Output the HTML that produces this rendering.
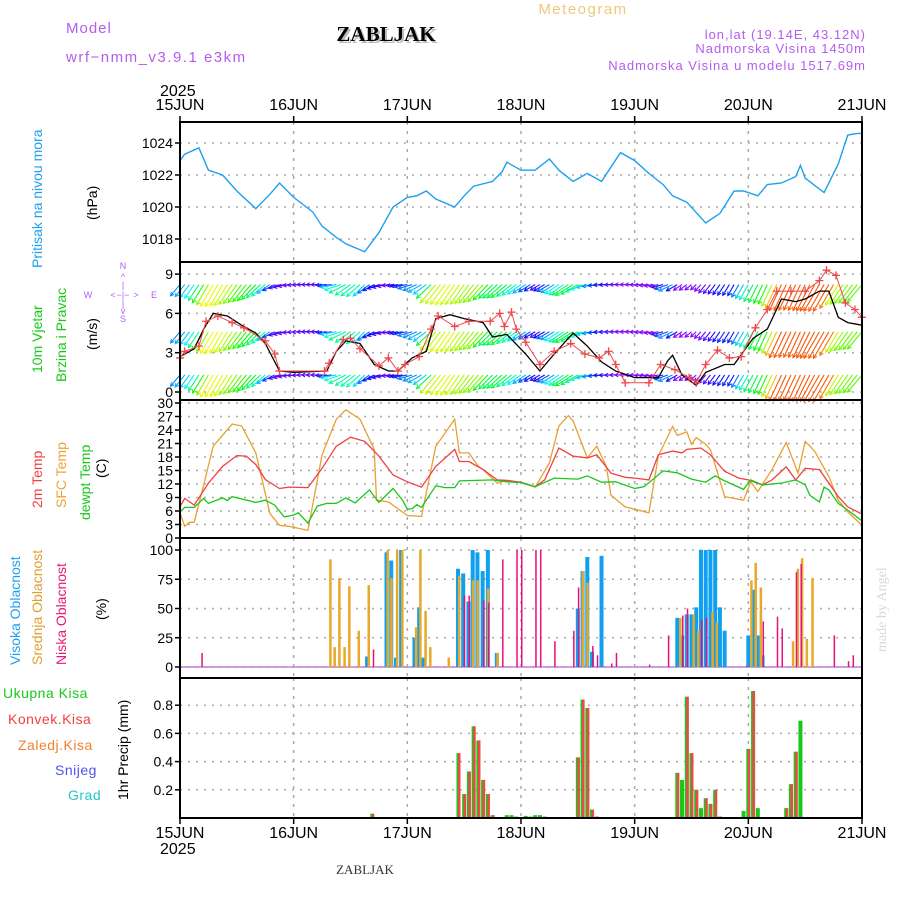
<!DOCTYPE html>
<html><head><meta charset="utf-8">
<style>
body{margin:0;background:#fff;}
svg{display:block;font-family:"Liberation Sans",sans-serif;}
</style></head>
<body>
<svg id="chart" width="900" height="900" viewBox="0 0 900 900" xmlns="http://www.w3.org/2000/svg">
<rect width="900" height="900" fill="#fff"/>
<text x="66" y="33" font-size="15" fill="#b45cf0" letter-spacing="1">Model</text>
<text x="66" y="62" font-size="15" fill="#b45cf0" letter-spacing="1.5">wrf−nmm_v3.9.1 e3km</text>
<text x="388" y="43" font-size="21" font-weight="bold" font-family="Liberation Serif,serif" fill="#bbb" text-anchor="middle">ZABLJAK</text>
<text x="386" y="41" font-size="21" font-weight="bold" font-family="Liberation Serif,serif" fill="#000" text-anchor="middle">ZABLJAK</text>
<text x="583" y="14" font-size="15" fill="#f0c878" text-anchor="middle" letter-spacing="1.5">Meteogram</text>
<text x="866" y="39" font-size="13" fill="#b45cf0" text-anchor="end" letter-spacing="1">lon,lat (19.14E, 43.12N)</text>
<text x="866" y="53" font-size="13" fill="#b45cf0" text-anchor="end" letter-spacing="1">Nadmorska Visina 1450m</text>
<text x="866" y="70" font-size="13" fill="#b45cf0" text-anchor="end" letter-spacing="1">Nadmorska Visina u modelu 1517.69m</text>
<text x="160" y="96" font-size="16">2025</text>
<text x="160" y="854" font-size="16">2025</text>
<text x="365" y="874" font-size="13" font-family="Liberation Serif,serif" fill="#333" text-anchor="middle">ZABLJAK</text>
<text transform="translate(886,652) rotate(-90)" font-size="14" font-family="Liberation Serif,serif" fill="#d4dcd4">made by Angel</text>
<!-- left labels -->
<text transform="translate(42,268) rotate(-90)" font-size="14" fill="#1ea0f0">Pritisak na nivou mora</text>
<text transform="translate(97,220) rotate(-90)" font-size="14">(hPa)</text>
<text transform="translate(42,373) rotate(-90)" font-size="14" fill="#18c818">10m Vjetar</text>
<text transform="translate(66,382) rotate(-90)" font-size="14" fill="#18c818">Brzina i Pravac</text>
<text transform="translate(97,350) rotate(-90)" font-size="14">(m/s)</text>
<g font-size="9" fill="#b45cf0" text-anchor="middle">
<text x="123" y="269">N</text><text x="123" y="280">^</text><text x="123" y="288">|</text>
<text x="88" y="298">W</text><text x="113" y="298">&lt;</text><text x="123" y="298">−|−</text><text x="136" y="298">&gt;</text><text x="154" y="298">E</text>
<text x="123" y="307">|</text><text x="123" y="314">v</text><text x="123" y="322">S</text>
</g>
<text transform="translate(42,508) rotate(-90)" font-size="14" fill="#f04040">2m Temp</text>
<text transform="translate(66,508) rotate(-90)" font-size="14" fill="#f0a030">SFC Temp</text>
<text transform="translate(90,520) rotate(-90)" font-size="14" fill="#18c818">dewpt Temp</text>
<text transform="translate(106,478) rotate(-90)" font-size="14">(C)</text>
<text transform="translate(20,665) rotate(-90)" font-size="14" fill="#1ea0f0">Visoka Oblacnost</text>
<text transform="translate(42,665) rotate(-90)" font-size="14" fill="#e0a030">Srednja Oblacnost</text>
<text transform="translate(66,665) rotate(-90)" font-size="14" fill="#e8187a">Niska Oblacnost</text>
<text transform="translate(106,620) rotate(-90)" font-size="14">(%)</text>
<text x="3" y="698" font-size="14" fill="#18c818" letter-spacing="0.5">Ukupna Kisa</text>
<text x="8" y="724" font-size="14" fill="#f04040" letter-spacing="0.5">Konvek.Kisa</text>
<text x="18" y="750" font-size="14" fill="#f08030" letter-spacing="0.5">Zaledj.Kisa</text>
<text x="55" y="775" font-size="14" fill="#5050f0" letter-spacing="0.5">Snijeg</text>
<text x="68" y="800" font-size="14" fill="#20c8c8" letter-spacing="0.5">Grad</text>
<text transform="translate(128,800) rotate(-90)" font-size="14">1hr Precip (mm)</text>
<g id="plots"></g>
</svg>
<script>
// ---------- data ----------
const dayLabels = ["15JUN","16JUN","17JUN","18JUN","19JUN","20JUN","21JUN"];
const pressureTicks = [1018,1020,1022,1024];
const windTicks = [0,3,6,9];
const tempTicks = [0,3,6,9,12,15,18,21,24,27,30];
const cloudTicks = [0,25,50,75,100];
const precipTicks = [0.2,0.4,0.6,0.8];

const pressureHours = [0,1,4,6,9,12,16,19,21,24,28,30,33,35,39,42,45,48,50,52,54,58,60,62,66,68,69,72,75,78,80,83,86,89,93,96,99,102,104,107,111,114,117,119,122,124,127,130,131,132,136,139,141,143,144];
const pressureValues = [1022.9,1023.3,1023.7,1022.3,1022.0,1021.0,1019.9,1020.8,1021.5,1020.6,1019.7,1018.8,1018.1,1017.7,1017.2,1018.4,1020.0,1020.6,1020.7,1021.0,1020.5,1020.0,1020.7,1021.3,1021.6,1022.2,1022.8,1022.3,1022.3,1023.0,1022.3,1021.6,1022.1,1021.6,1023.4,1022.9,1022.1,1021.4,1020.7,1020.3,1019.0,1019.6,1021.0,1021.0,1020.7,1021.4,1021.5,1021.9,1022.6,1021.8,1020.9,1022.7,1024.5,1024.6,1024.6];

const windHours = [0,3,5,7,10,13,16,18,21,24,31,33,35,38,41,44,46,49,52,54,57,60,64,66,69,73,76,79,83,86,89,92,96,101,103,104,106,109,111,115,117,121,124,127,130,132,135,137,139,141,144];
const windSpeed = [2.7,3.3,4.8,6.0,5.8,5.1,4.5,3.7,1.6,1.5,1.6,3.1,3.9,3.7,2.1,1.6,1.6,2.6,3.1,5.6,5.9,5.6,5.3,4.2,4.4,2.9,1.6,2.9,4.5,3.5,2.3,1.6,1.1,1.1,2.4,2.8,1.3,0.5,1.5,2.1,2.1,4.1,4.8,7.1,6.9,7.1,7.7,7.7,5.7,5.3,5.1];
const gustHours = [0,1,4,5.5,8,11,13.5,18,20,21,30.5,31.5,34.5,36,38,42,44,46,47.5,50.5,53,54.5,58,61,65.5,67.5,68.5,70,71,73,76,79,82.5,85.5,88.5,90.5,92,94,99,101.5,104.5,107.5,109,111,113.5,116,118.5,121.5,124,126,129,132,135,136.5,138.5,140.5,142.5,144];
const gustSpeed = [2.6,3.1,3.5,5.4,5.8,5.3,4.9,3.9,2.9,1.6,1.6,2.2,4.0,4.1,3.3,2.0,2.6,1.6,2.1,2.7,4.8,5.8,5.0,5.4,5.4,6.0,5.0,6.1,4.8,3.8,2.1,3.1,3.7,2.9,2.6,3.1,2.1,0.7,0.7,2.1,1.7,1.1,0.7,2.1,3.2,2.6,2.7,4.9,6.3,7.7,7.7,7.7,8.5,9.3,8.9,6.8,6.3,5.7];
// wind "from" direction (deg) every 3 hours
const windDirHours = [0,3,6,9,12,15,18,21,24,27,30,33,36,39,42,45,48,51,54,57,60,63,66,69,72,75,78,81,84,87,90,93,96,99,102,105,108,111,114,117,120,123,126,129,132,135,138,141,144];
const windDir = [40,35,30,30,35,40,50,70,85,90,90,80,55,45,70,85,80,60,40,35,35,40,45,50,55,60,60,55,60,80,88,90,90,85,75,60,50,40,35,30,30,25,25,25,25,30,30,35,40];

const t2Hours = [0,1,3,6,9,12,14,16,18,21,23,27,30,33,36,39,42,45,48,51,54,58,59,61,64,67,69,72,75,77,80,83,86,88,91,94,96,99,101,104,106,107,110,112,115,118,120,123,125,128,130,132,135,139,141,144];
const t2Values = [7.0,8.8,7.3,12.2,15.9,18.3,18.2,16.3,13.0,11.0,11.3,11.2,15.5,20.4,22.4,21.5,18.2,14.0,12.5,11.3,15.9,19.7,17.0,17.0,15.2,12.9,12.8,12.4,11.4,12.9,20.0,18.2,17.8,18.5,14.4,13.5,13.3,12.9,18.5,19.3,18.9,19.7,20.0,18.5,14.8,13.3,12.9,11.8,12.9,15.8,12.9,15.5,15.2,9.2,6.9,5.3];
const sfcHours = [0,1,2,3,5,7,11,13,16,19,21,23,27,30,33,35,38,41,41.5,44,48,51,54,58,59,61,63,64,67,69,72,75,78,80,82,83,86,88,90,91,94,99,101,104,105,107,108,109,111,112,115,119,120.5,122,125,128,130.5,132,134,137,139,141,144];
const sfcValues = [5.6,2.6,3.5,3.5,11.8,20.4,25.3,24.9,18.9,5.4,2.8,2.6,1.7,18.5,26.4,28.5,26.4,19.7,8.4,8.0,5.0,4.8,20.4,26.4,18.9,18.9,15.9,15.2,12.2,12.8,12.3,11.3,16.7,24.9,27.2,26.0,17.8,20.4,15.9,9.5,6.9,5.6,18.2,24.8,22.8,23.6,20.8,22.3,20.8,19.7,9.2,8.4,12.5,10.3,15.2,21.2,14.4,21.5,19.3,13.7,8.4,5.8,2.8];
const dewHours = [0,1,3,5,6,9,10,11,16,18,20,22,24,25,27,29,31,33,35,37,40,42,45,47,48,49,50,51,54,56,58,59,66,69,72,75,79,84,86,89,92,96,98,102,105,108,111,113,115,119,120.5,123,127,130,132,133,135,136,137,139,141,144];
const dewValues = [5.8,6.8,6.8,8.8,7.7,8.9,8.3,9.2,7.9,8.4,7.3,4.7,5.1,5.6,3.3,7.1,7.7,7.7,8.9,7.8,10.7,7.9,11.0,8.4,6.4,6.5,7.4,6.8,11.6,11.2,11.2,12.7,12.9,12.5,12.3,11.4,13.3,13.1,13.8,12.4,12.5,11.0,11.4,14.9,14.5,13.1,12.4,13.8,12.7,10.8,12.9,11.8,12.2,12.9,11.8,9.5,8.0,11.3,10.7,7.7,6.2,3.8];

const highHours = [39.5,43.6,44.6,45.6,46.7,49.5,50.5,51.4,58.7,59.8,60.9,61.8,62.8,63.9,65,66.9,84,85,86,87,89,105,106,107,108,109,110,111,112,113,114,115,120,121,122,123];
const highValues = [9,98,91,8,100,25,51,8,84,80,56,100,98,82,100,12,50,82,94,13,95,42,27,45,45,51,100,100,100,100,51,31,27,66,27,10];
const midHours = [31.7,32.6,33.6,34.7,35.7,37.7,39.8,43.8,44.6,45.8,46.9,49.8,50.7,51.8,52.8,56.7,58.9,61.8,62.8,65,67,85,86,105.6,108.4,109.4,112.4,113.3,120.6,121.5,122.6,129.4,130.4,131.3,132.3,133.5];
const midValues = [92,17,76,17,69,31,70,100,76,100,100,34,100,48,17,8,78,74,74,67,12,82,72,42,45,31,47,38,74,89,68,22,84,93,24,76];
const lowHours = [4.5,40.7,59.9,60.9,64,65,68,71,72,75,76,79,83,84,87,88,91,92,99,103,106,107,110,111,119.5,123,126,127,130,131,138,141,142];
const lowValues = [12,15,61,61,57,55,92,100,100,100,100,22,31,68,18,10,3,12,2,27,44,50,40,42,1,39,43,33,81,88,27,5,10];

const precipHours = [40.6,58.8,60,61,62,63,64,65,66,69,70,71,73,74,75,76,77,84,85,86,87,88,105,106,107,108,109,110,111,112,113,114,119,120,121,122,128,129,130,131];
const precipTotal = [0.03,0.46,0.17,0.33,0.65,0.55,0.27,0.17,0.02,0.02,0.02,0.01,0.015,0.01,0.02,0.02,0.01,0.43,0.84,0.78,0.06,0.01,0.32,0.27,0.86,0.46,0.2,0.07,0.14,0.1,0.2,0.01,0.05,0.49,0.9,0.07,0.07,0.24,0.47,0.69];
const precipConv = [0.03,0.46,0.17,0.33,0.65,0.55,0.27,0.17,0.02,0,0,0,0,0,0,0,0,0.43,0.84,0.78,0.06,0.01,0.32,0,0.86,0.46,0.2,0,0.14,0.1,0.2,0.01,0,0.49,0.9,0,0.07,0.24,0.47,0];

// ---------- helpers ----------
const NS = "http://www.w3.org/2000/svg";
const plots = document.getElementById('plots');
const X0 = 180, X1 = 862, HOURS = 144;
const xs = h => X0 + (X1 - X0) * h / HOURS;
const panels = [
  {name:'pressure', top:122, bot:262, y:v => 239 - (v-1018)*16, ticks:pressureTicks, fmt:v=>v},
  {name:'wind', top:262, bot:400, y:v => 392 - v*13.1, ticks:windTicks, fmt:v=>v},
  {name:'temp', top:400, bot:538, y:v => 538 - v*4.5, ticks:tempTicks, fmt:v=>v},
  {name:'cloud', top:538, bot:678, y:v => 667 - v*1.17, ticks:cloudTicks, fmt:v=>v},
  {name:'precip', top:678, bot:818, y:v => 818 - v*141, ticks:precipTicks, fmt:v=>v.toFixed(1)}
];
function mk(tag, attrs, parent){
  const e = document.createElementNS(NS, tag);
  for (const k in attrs) e.setAttribute(k, attrs[k]);
  (parent||plots).appendChild(e);
  return e;
}
function line(xsArr, ysArr, color, name, w){
  const d = xsArr.map((h,i)=>(i?'L':'M')+xs(h).toFixed(1)+','+ysArr[i].toFixed(1)).join('');
  const p = mk('path',{d:d,fill:'none',stroke:color,'stroke-width':w||1.3});
  
  
  return p;
}
function interp(hArr, vArr, h){
  for (let i=1;i<hArr.length;i++) if (h<=hArr[i]){const t=(h-hArr[i-1])/(hArr[i]-hArr[i-1]);return vArr[i-1]+t*(vArr[i]-vArr[i-1]);}
  return vArr[vArr.length-1];
}

// grids
panels.forEach(p=>{
  const g = mk('g',{});
  
  
  p.ticks.forEach(t=>{
    const y = p.y(t);
    mk('line',{x1:X0,x2:X1,y1:y,y2:y,stroke:'#aaa','stroke-dasharray':'2,6','stroke-width':1.5},g);
    mk('line',{x1:X0-5,x2:X0,y1:y,y2:y,stroke:'#000','stroke-width':1.5},g);
    const tx = mk('text',{x:X0-7,y:y+5,'font-size':14,'text-anchor':'end'},g);
    tx.textContent = p.fmt(t);
    
    
  });
  for (let d=1; d<6; d++){
    const x = xs(d*24);
    mk('line',{x1:x,x2:x,y1:p.top,y2:p.bot,stroke:'#aaa','stroke-dasharray':'3,6','stroke-width':1.5},g);
  }
});
// date labels
dayLabels.forEach((lab,i)=>{
  [110, 838].forEach(y=>{
    const t = mk('text',{x:xs(i*24),y:y,'font-size':16,'text-anchor':'middle'});
    t.textContent = lab;
    
    
  });
  mk('line',{x1:xs(i*24),x2:xs(i*24),y1:116,y2:122,stroke:'#000','stroke-width':1.5});
  mk('line',{x1:xs(i*24),x2:xs(i*24),y1:818,y2:824,stroke:'#000','stroke-width':1.5});
});

// pressure
line(pressureHours, pressureValues.map(panels[0].y), '#1ea0f0', 'pressure-line', 1.4);

// wind arrows (three rows)
const wy = panels[1].y;
[8.2, 4.6, 1.3].forEach((lvl,ri)=>{
  const g = mk('g',{});
  
  
  for (let h=0; h<=HOURS; h+=1){
    const sp = interp(windHours, windSpeed, h);
    const dir = interp(windDirHours, windDir, h) * Math.PI/180;
    const len = 6 + sp*3.2;
    const x = xs(h), y = wy(lvl);
    const x2 = x - Math.sin(dir)*len, y2 = y + Math.cos(dir)*len;
    const hue = Math.min(270, Math.max(20, 330 - sp*45));
    const col = 'hsl('+hue+',95%,50%)';
    mk('line',{x1:x,y1:y,x2:x2,y2:y2,stroke:col,'stroke-width':1.1},g);
    const a = Math.atan2(y2-y, x2-x);
    mk('path',{d:'M'+(x2-4*Math.cos(a-0.5))+','+(y2-4*Math.sin(a-0.5))+'L'+x2+','+y2+'L'+(x2-4*Math.cos(a+0.5))+','+(y2-4*Math.sin(a+0.5)),fill:'none',stroke:col,'stroke-width':1},g);
  }
});
line(windHours, windSpeed.map(wy), '#000', 'wind-speed-line', 1.3);
line(gustHours, gustSpeed.map(wy), '#f04848', 'wind-gust-line', 1);
gustHours.forEach((h,i)=>{
  const x = xs(h), y = wy(gustSpeed[i]);
  const p = mk('path',{d:`M${x-4},${y}H${x+4}M${x},${y-4}V${y+4}`,stroke:'#f04848','stroke-width':1.3});
  
  
});

// temperatures
const ty = panels[2].y;
line(sfcHours, sfcValues.map(ty), '#e8a030', 'sfc-temp-line', 1.3);
line(t2Hours, t2Values.map(ty), '#f04040', 't2m-line', 1.3);
line(dewHours, dewValues.map(ty), '#18c818', 'dewpoint-line', 1.3);

// clouds
const cy = panels[3].y;
mk('line',{x1:X0,x2:X1,y1:cy(0),y2:cy(0),stroke:'#c080d0','stroke-width':1.5});
function cloudBars(hArr, vArr, col, w, off, name){
  hArr.forEach((h,i)=>{
    const r = mk('rect',{x:xs(h)+off,y:cy(vArr[i]),width:w,height:cy(0)-cy(vArr[i]),fill:col});
    
    
  });
}
cloudBars(highHours, highValues, '#10a0f0', 4, -2, 'high-cloud-bar');
cloudBars(midHours, midValues, '#e8a828', 2.5, -1, 'mid-cloud-bar');
cloudBars(lowHours, lowValues, '#e8107a', 1.5, 0, 'low-cloud-bar');

// precip
const py = panels[4].y;
precipHours.forEach((h,i)=>{
  const x = xs(h);
  const g = mk('rect',{x:x-2,y:py(precipTotal[i]),width:4,height:818-py(precipTotal[i]),fill:'#18c818'});
  
  
  if (precipConv[i]>0){
    const r = mk('rect',{x:x-0.5,y:py(precipConv[i]),width:2.5,height:818-py(precipConv[i]),fill:'#f04848'});
    
    
  }
});

// frames
panels.forEach(p=>{
  const r = mk('rect',{x:X0,y:p.top,width:X1-X0,height:p.bot-p.top,fill:'none',stroke:'#000','stroke-width':2});
  
  
});
</script>
</body></html>
